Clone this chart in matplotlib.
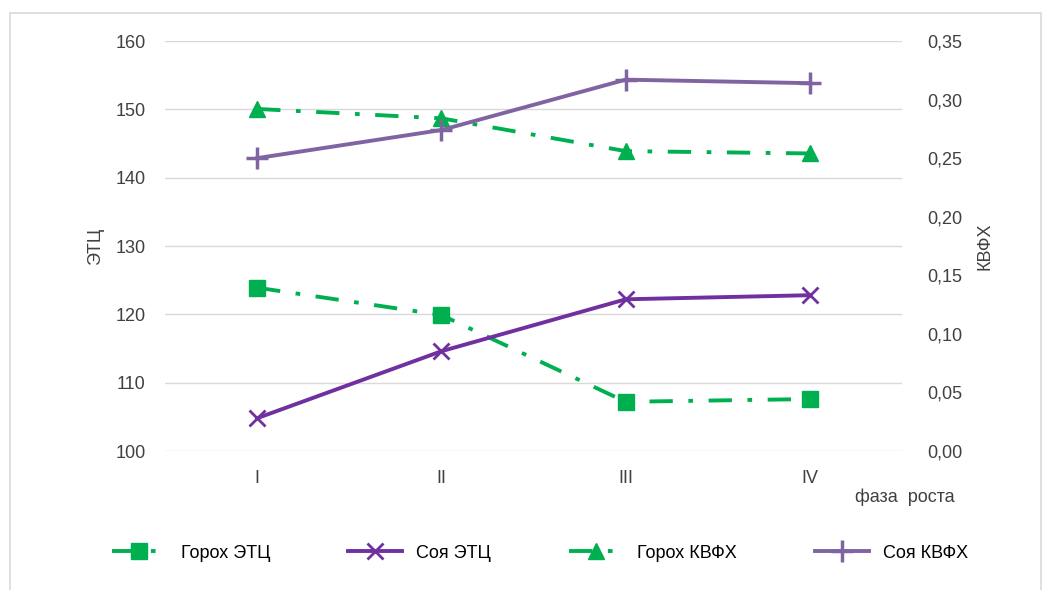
import numpy as np
import matplotlib.pyplot as plt
from matplotlib.ticker import FuncFormatter

plt.rcParams['font.family'] = ['Liberation Sans Narrow', 'Liberation Sans', 'DejaVu Sans']

phases = ['I', 'II', 'III', 'IV']
goroh_etc = [123.9, 119.9, 107.2, 107.6]
soya_etc = [104.8, 114.6, 122.2, 122.8]
goroh_kvfh = [0.292, 0.284, 0.256, 0.254]
soya_kvfh = [0.250, 0.274, 0.317, 0.314]

GREEN = '#00B050'
DPURPLE = '#7030A0'
LPURPLE = '#8064A2'

x = np.arange(len(phases))

fig = plt.figure(figsize=(10.49, 5.90), dpi=100)
# light frame around the whole chart
fig.patches.append(plt.Rectangle((0.010, -0.01), 0.982, 0.988, transform=fig.transFigure,
                                 fill=False, edgecolor='#d9d9d9', linewidth=1.2))

ax = fig.add_axes([165 / 1049, 1 - 451 / 590, (902 - 165) / 1049, (451 - 41) / 590])
ax2 = ax.twinx()

dashdot = (0, (6, 4, 1.2, 4))
l1, = ax.plot(x, goroh_etc, color=GREEN, lw=2.8, ls=dashdot, marker='s', ms=11,
              label='Горох ЭТЦ')
l2, = ax.plot(x, soya_etc, color=DPURPLE, lw=2.8, marker='x', ms=12, mew=2, label='Соя ЭТЦ')
l3, = ax2.plot(x, goroh_kvfh, color=GREEN, lw=2.8, ls=dashdot, marker='^', ms=12,
               label='Горох КВФХ')
l4, = ax2.plot(x, soya_kvfh, color=LPURPLE, lw=2.8, marker='+', ms=16, mew=2.5, label='Соя КВФХ')

ax.set_xlim(-0.5, 3.5)
ax.set_ylim(100, 160)
ax.set_yticks(range(100, 161, 10))
ax2.set_ylim(0, 0.35)
ax2.set_yticks(np.arange(0, 0.351, 0.05))
ax2.yaxis.set_major_formatter(FuncFormatter(lambda v, p: f'{v:.2f}'.replace('.', ',')))

ax.set_xticks(x)
ax.set_xticklabels(phases)
ax.grid(axis='y', color='#d9d9d9', lw=1)
ax.set_axisbelow(True)
for a in (ax, ax2):
    for s in a.spines.values():
        s.set_visible(False)
    a.tick_params(length=0, labelsize=13, colors='#404040')
ax.tick_params(axis='y', pad=14)
ax2.tick_params(axis='y', pad=18)
ax.tick_params(axis='x', pad=14)

ax.set_ylabel('ЭТЦ', fontsize=13, color='#404040', labelpad=8)
ax2.set_ylabel('КВФХ', fontsize=13, color='#404040', labelpad=10)
fig.text(855 / 1049, 1 - 497 / 590, 'фаза  роста', fontsize=13, color='#404040',
         ha='left', va='center')

fig.legend(handles=[l1, l2, l3, l4], loc='center', bbox_to_anchor=(0.515, 1 - 553 / 590),
           ncol=4, frameon=False, fontsize=13, columnspacing=4.3, handlelength=3)

fig.savefig('out.png', dpi=100)
